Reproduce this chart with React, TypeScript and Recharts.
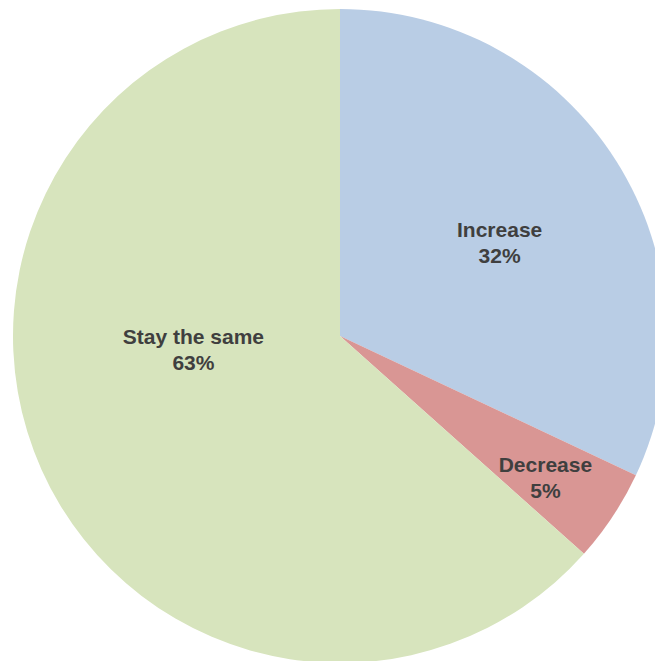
import { Cell, Pie, PieChart } from 'recharts'

const categories = ['Increase', 'Decrease', 'Stay the same']
const shares = [32.0, 4.6, 63.4]
const sliceColors = ['#b9cde5', '#d99694', '#d7e4bd']

// label placement: fraction of radius, and angle tweak in degrees
const labelRadius = [0.566, 0.762, 0.45]
const labelAngleShift = [-2, -1, -19]

const data = categories.map((name, i) => ({ name, value: shares[i] }))
const total = shares.reduce((a, b) => a + b, 0)
const RAD = Math.PI / 180

const renderLabel = (props: any) => {
  const { cx, cy, midAngle, outerRadius, index, value } = props
  const ang = (midAngle + labelAngleShift[index]) * RAD
  const r = outerRadius * labelRadius[index]
  const x = cx + r * Math.cos(-ang)
  const y = cy + r * Math.sin(-ang)
  return (
    <text
      x={x}
      y={y - 5.5}
      textAnchor="middle"
      fill="#3f3f3f"
      fontFamily="'Liberation Sans', Arial, sans-serif"
      fontWeight="bold"
      fontSize={21}
    >
      <tspan x={x}>{categories[index]}</tspan>
      <tspan x={x} dy={26}>
        {Math.round((value / total) * 100)}%
      </tspan>
    </text>
  )
}

export default function App() {
  return (
    <div style={{ position: 'absolute', left: 0, top: 0 }}>
      <PieChart width={655} height={661}>
        <Pie
          data={data}
          dataKey="value"
          nameKey="name"
          cx={335}
          cy={331}
          outerRadius={327}
          startAngle={90}
          endAngle={-270}
          stroke="none"
          label={renderLabel}
          labelLine={false}
          isAnimationActive={false}
        >
          {data.map((d, i) => (
            <Cell key={d.name} fill={sliceColors[i]} />
          ))}
        </Pie>
      </PieChart>
    </div>
  )
}
